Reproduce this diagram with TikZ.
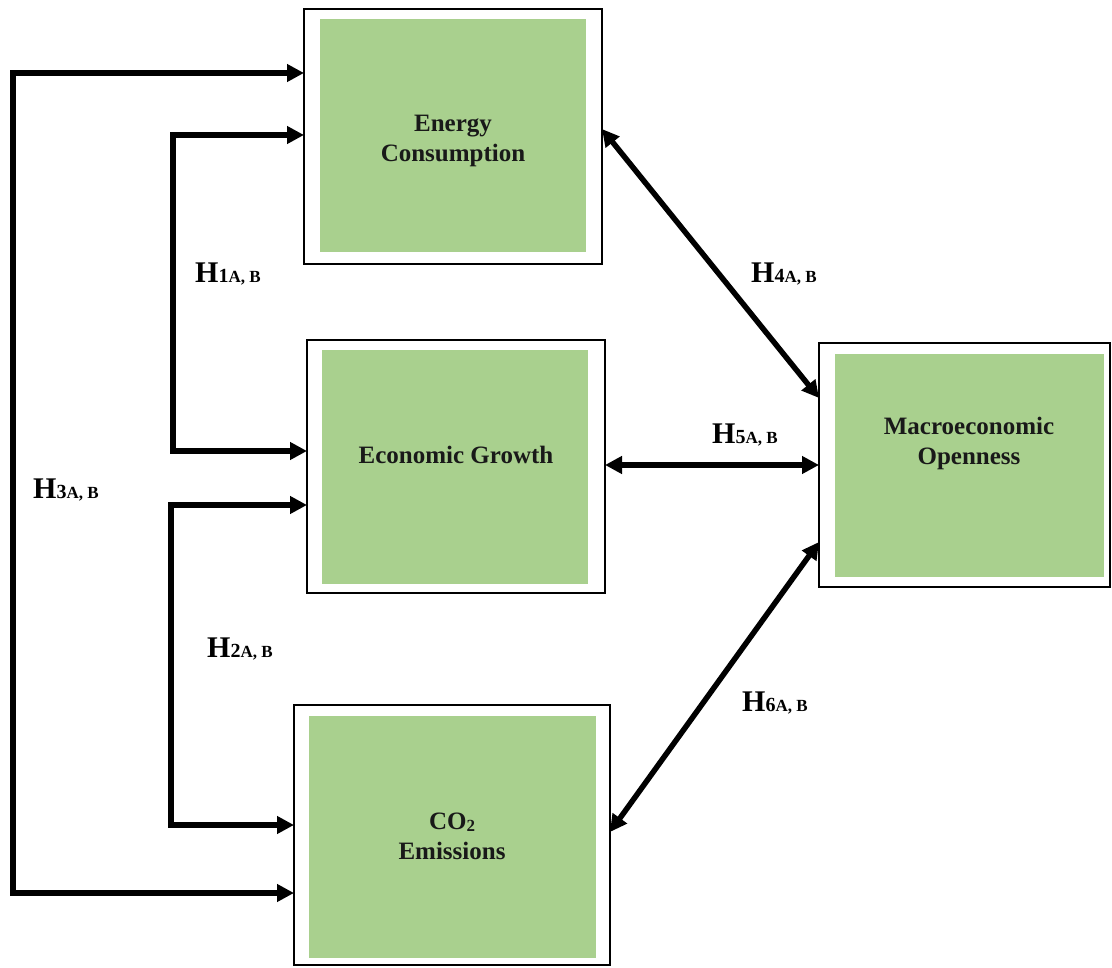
\documentclass[tikz,border=0pt]{standalone}
\usepackage{fontspec}
\setmainfont{Liberation Serif}
\usetikzlibrary{arrows.meta}

\definecolor{boxgreen}{RGB}{169,208,142}
\definecolor{inkblack}{RGB}{25,25,25}

\newcommand{\hyp}[1]{H{\fontsize{20}{20}\selectfont #1}{\fontsize{17}{17}\selectfont A, B}}

\tikzset{
  frame/.style = {draw, line width=1.8pt, inner sep=0pt, outer sep=0pt},
  fillbox/.style = {fill=boxgreen, inner sep=0pt, outer sep=0pt},
  boxtext/.style = {font=\fontsize{25}{30}\selectfont\bfseries, text=inkblack, align=center, inner sep=0pt},
  hlabel/.style = {font=\fontsize{30}{30}\selectfont\bfseries, anchor=base west, inner sep=0pt},
  link/.style = {line width=5.5pt, {Triangle[length=17pt,width=17pt]}-{Triangle[length=17pt,width=17pt]}}
}

\begin{document}
\begin{tikzpicture}[x=1pt,y=-1pt]
\useasboundingbox (0,0) rectangle (1112,968);

% frames
\node[frame, minimum width=298pt, minimum height=255pt] (ec) at (453,136.5) {};
\node[frame, minimum width=298pt, minimum height=253pt] (eg) at (456,466.5) {};
\node[frame, minimum width=291pt, minimum height=244pt] (mo) at (964.5,465) {};
\node[frame, minimum width=316pt, minimum height=260pt] (co) at (452,835) {};

% green fills
\node[fillbox, minimum width=266pt, minimum height=233pt] (ecin) at (453,135.5) {};
\node[fillbox, minimum width=266pt, minimum height=234pt] (egin) at (455,467) {};
\node[fillbox, minimum width=269pt, minimum height=223pt] (moin) at (969.5,465.5) {};
\node[fillbox, minimum width=287pt, minimum height=242pt] (coin) at (452.5,837) {};

% texts
\node[boxtext] (ectext) at (453,141) {Energy\\Consumption};
\node[boxtext, anchor=base] (egtext) at (456,464) {Economic Growth};
\node[boxtext] (motext) at (969,443) {Macroeconomic\\Openness};
\node[boxtext] (cotext) at (452,836) {CO{\fontsize{17}{17}\selectfont\raisebox{-2pt}{2}}\\Emissions};

% links
\draw[link] (ec.west |- 0,73) -| (13,480) |- (co.west |- 0,893);
\draw[link] (ec.west |- 0,135) -| (173,293) |- (eg.west |- 0,451);
\draw[link] (eg.west |- 0,505) -| (171,660) |- (co.west |- 0,825);
\draw[link] (ec.east |- 0,129) -- (mo.west |- 0,398);
\draw[link] (eg.east |- 0,465) -- (mo.west |- 0,465);
\draw[link] (mo.west |- 0,542) -- (co.east |- 0,832);

% labels
\node[hlabel] (h1) at (195,283) {\hyp{1}};
\node[hlabel] (h2) at (207,657) {\hyp{2}};
\node[hlabel] (h3) at (33,498) {\hyp{3}};
\node[hlabel] (h4) at (751,283) {\hyp{4}};
\node[hlabel] (h5) at (712,443) {\hyp{5}};
\node[hlabel] (h6) at (742,711) {\hyp{6}};
\end{tikzpicture}
\end{document}
